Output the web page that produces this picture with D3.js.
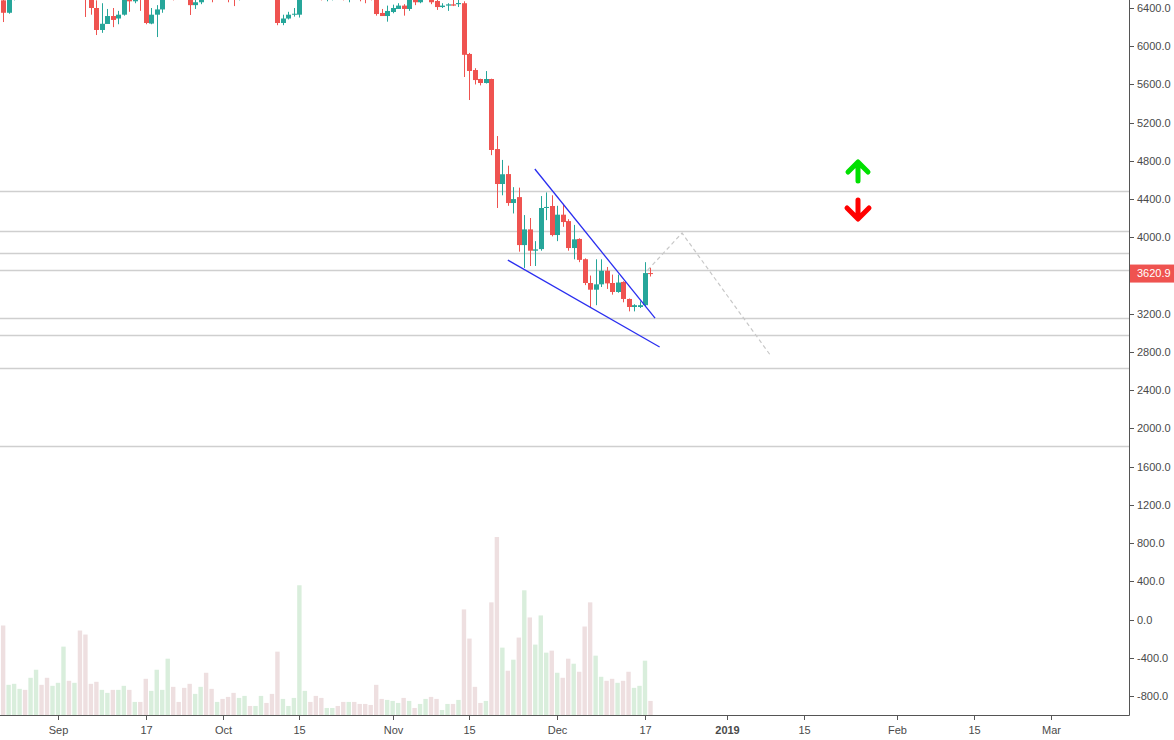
<!DOCTYPE html>
<html><head><meta charset="utf-8">
<script src="https://cdn.jsdelivr.net/npm/d3@7"></script>
<style>body{margin:0;background:#fff}svg{display:block;font-family:"Liberation Sans",Arial,sans-serif}</style>
</head><body><svg id="c" width="1174" height="740"></svg>
<script>
const startDate = "2018-08-22";
const opens  = [6480,6350,6520,6700,6740,6700,6910,7080,7030,6980, 7010,7190,7270,7260,7360,6700,6510,6400,6170,6233,6316,6290,6330,6500,6470,6520,6500,6237,6330,6385,6500,6760,6710,6700,6590,6430,6460,6650,6630,6590,
 6620,6590,6530,6490,6560,6620,6590,6610,6650,6630,6580,6243,6290,6330,6330,6600,6610,6580,6500,6490,6500,6510,6500,6495,6520,6510,6505,6500,6490,6348,6316,
 6358,6390,6425,6390,6500,6460,6500,6560,6473,6410,6425,6438,6440,6450,5919,5751,5657,5615,5657,4924,4558,4662,4359,4421,3919,4083,3860,3877,4307,4328,
 4024,4237,4170,3888,3983,3771,3522,3452,3508,3650,3522,3428,3533,3355,3271,3271,3290,3626];
const highs  = [6520,6560,6720,6780,6760,6930,7100,7100,7050,7040, 7200,7300,7300,7390,7400,6760,6530,6480,6450,6390,6400,6370,6540,6570,6580,6540,6540,6400,6430,6540,6780,6800,6740,6720,6600,6540,6680,6680,6650,6640,
 6640,6600,6540,6580,6640,6640,6630,6670,6670,6640,6600,6330,6360,6400,6900,6680,6620,6590,6520,6520,6530,6530,6520,6520,6540,6530,6520,6510,6510,6390,6425,
 6435,6450,6440,6520,6530,6530,6580,6580,6490,6450,6450,6484,6484,6470,5930,5770,5660,5740,5660,5060,4810,4750,4525,4520,4233,4202,3960,4432,4470,4440,
 4330,4350,4190,4130,3990,3780,3600,3770,3770,3690,3610,3610,3540,3360,3300,3330,3740,3680];
const lows   = [6253,6340,6480,6680,6690,6690,6890,7000,6960,6950, 6990,7170,7220,7230,6690,6306,6330,6117,6140,6250,6200,6230,6320,6360,6450,6370,6230,6230,6096,6350,6490,6480,6600,6560,6327,6390,6440,6520,6460,6540,
 6550,6460,6420,6480,6540,6560,6570,6590,6600,6560,6220,6220,6280,6310,6300,6560,6560,6490,6480,6470,6480,6490,6480,6460,6490,6470,6450,6480,6320,6316,6257,
 6345,6390,6320,6370,6430,6450,6490,6440,6380,6400,6370,6420,6410,5678,5437,5600,5590,5610,4860,4307,4440,4330,4250,3850,3680,3700,3700,3860,4180,4010,
 3960,4110,3860,3770,3740,3500,3271,3290,3480,3460,3400,3420,3320,3225,3225,3260,3280,3590];
const closes = [6350,6520,6700,6740,6700,6910,7080,7030,6980,7010, 7190,7270,7260,7360,6700,6510,6400,6170,6235,6316,6275,6330,6500,6470,6520,6500,6243,6330,6385,6500,6760,6710,6700,6590,6430,6460,6650,6630,6590,6620,
 6590,6530,6490,6560,6620,6590,6610,6650,6630,6580,6243,6290,6330,6340,6600,6610,6580,6500,6490,6500,6510,6500,6495,6520,6510,6505,6500,6490,6337,6316,6369,
 6400,6425,6390,6500,6460,6500,6560,6460,6410,6425,6438,6425,6452,5910,5741,5646,5615,5657,4914,4558,4660,4359,4400,3919,4083,3860,3874,4307,4318,4024,
 4237,4160,3888,3979,3764,3522,3452,3508,3650,3518,3428,3527,3355,3271,3290,3290,3626,3620.9];
const volumes = [267,90,93,78,75,111,135,90,111,87, 96,204,102,96,252,240,93,99,75,66, 75,75,87,75,39,39,108,72,135,75, 168,84,39,81,93,63,84,126,78,39,
 48,54,66,51,57,27,27,57,36,63, 189,48,27,51,387,72,39,57,51,21, 21,27,39,39,39,33,33,30,90,48, 45,42,36,51,42,21,33,48,54,48, 15,33,33,45,315,228,84,36,42,336,
 531,201,132,165,231,372,291,210,297,186, 192,126,111,168,153,129,264,336,177,114, 102,108,96,102,129,81,87,162,42];
const levels = [4485,4066,3836,3658,3155,2977,2631,1816];
const priceTicks = [6400,6000,5600,5200,4800,4400,4000,3600,3200,2800,2400,2000,1600,1200,800,400,0,-400,-800];
const wedgeUpper = [["2018-11-26T22:00",4715],["2018-12-18T20:00",3155]];
const wedgeLower = [["2018-11-22T00:00",3762],["2018-12-19T16:00",2852]];
const projection = [["2018-12-17T12:00",3658],["2018-12-23T18:00",4045],["2019-01-08T20:00",2768]];
const dateTicks = [["2018-09-01","Sep"],["2018-09-17","17"],["2018-10-01","Oct"],["2018-10-15","15"],["2018-11-01","Nov"],["2018-11-15","15"],["2018-12-01","Dec"],["2018-12-17","17"],["2019-01-01","2019"],["2019-01-15","15"],["2019-02-01","Feb"],["2019-02-15","15"],["2019-03-01","Mar"]];
const lastPrice = 3620.9;

const svg = d3.select("#c");
const W = 1129, H = 715;
const x = d3.scaleUtc().domain([new Date("2018-09-01"), new Date("2018-12-17")]).range([58, 645]);
const y = d3.scaleLinear().domain([-800, 6400]).range([696, 8]);
const yv = d3.scaleLinear().domain([0, 531]).range([H, 537]);
const day = 86400000, t0 = new Date(startDate).getTime();
const candles = opens.map((o,i)=>({d:new Date(t0+i*day),o,h:highs[i],l:lows[i],c:closes[i],v:volumes[i]}));
const up="#26a69a", dn="#ef5350";

svg.append("defs").append("clipPath").attr("id","cp").append("rect").attr("width",W).attr("height",H);
const g = svg.append("g").attr("clip-path","url(#cp)");

g.selectAll(".lv").data(levels).join("line").attr("x1",0).attr("x2",W)
 .attr("y1",d=>Math.round(y(d))+0.5).attr("y2",d=>Math.round(y(d))+0.5).attr("stroke","#cfcfcf").attr("stroke-width",1.3);

g.selectAll(".vb").data(candles).join("rect").attr("x",d=>x(d.d)-2.2).attr("width",4.4)
 .attr("y",d=>yv(d.v)).attr("height",d=>H-yv(d.v)).attr("fill",d=>d.c>=d.o?"#d9eedc":"#eedfe0");

g.selectAll(".wk").data(candles).join("line").attr("x1",d=>Math.round(x(d.d))+0.5).attr("x2",d=>Math.round(x(d.d))+0.5)
 .attr("y1",d=>y(d.h)).attr("y2",d=>y(d.l)).attr("stroke",d=>d.c>=d.o?up:dn).attr("stroke-width",1);
g.selectAll(".bd").data(candles).join("rect").attr("x",d=>Math.round(x(d.d))-2).attr("width",5)
 .attr("y",d=>y(Math.max(d.o,d.c))).attr("height",d=>Math.max(1,Math.abs(y(d.o)-y(d.c))))
 .attr("fill",d=>d.c>=d.o?up:dn);

const line = d3.line().x(d=>x(new Date(d[0]+"Z"))).y(d=>y(d[1]));
g.append("path").attr("d",line(wedgeUpper)).attr("stroke","#2a2ef0").attr("stroke-width",1.3).attr("fill","none");
g.append("path").attr("d",line(wedgeLower)).attr("stroke","#2a2ef0").attr("stroke-width",1.3).attr("fill","none");
g.append("path").attr("d",line(projection)).attr("stroke","#c8c8c8").attr("stroke-width",1.2).attr("stroke-dasharray","4,3").attr("fill","none");

svg.append("path").attr("d","M848,172 L858,162 L868,172 M858,163 L858,181").attr("stroke","#00e000").attr("stroke-width",5).attr("stroke-linecap","round").attr("stroke-linejoin","round").attr("fill","none");
svg.append("path").attr("d","M858,200 L858,218 M847,208 L858,219 L869,208").attr("stroke","#ff0000").attr("stroke-width",5).attr("stroke-linecap","round").attr("stroke-linejoin","round").attr("fill","none");

svg.append("line").attr("x1",W+0.5).attr("x2",W+0.5).attr("y1",0).attr("y2",H+0.5).attr("stroke","#555");
svg.append("line").attr("x1",0).attr("x2",W+0.5).attr("y1",H+0.5).attr("y2",H+0.5).attr("stroke","#555");
const py = y(lastPrice);
const ya = svg.append("g").selectAll("g").data(priceTicks).join("g").attr("transform",d=>`translate(${W},${Math.round(y(d))+0.5})`);
ya.append("line").attr("x2",5).attr("stroke","#555");
ya.filter(d=>Math.abs(y(d)-py)>12).append("text").attr("x",8).attr("dy","0.35em").attr("font-size",11).attr("fill","#4a4a4a").text(d=>d.toFixed(1));
const xa = svg.append("g").selectAll("g").data(dateTicks).join("g").attr("transform",d=>`translate(${Math.round(x(new Date(d[0])))+0.5},${H})`);
xa.append("line").attr("y2",5).attr("stroke","#555");
xa.append("text").attr("y",19).attr("text-anchor","middle").attr("font-size",11).attr("fill","#4a4a4a")
 .attr("font-weight",d=>d[1]==="2019"?"bold":"normal").text(d=>d[1]);

svg.append("rect").attr("x",W+1).attr("y",py-9).attr("width",45).attr("height",18).attr("fill",dn);
svg.append("text").attr("x",W+8).attr("y",py).attr("dy","0.35em").attr("font-size",11).attr("fill","#fff").text(lastPrice.toFixed(1));
</script></body></html>
